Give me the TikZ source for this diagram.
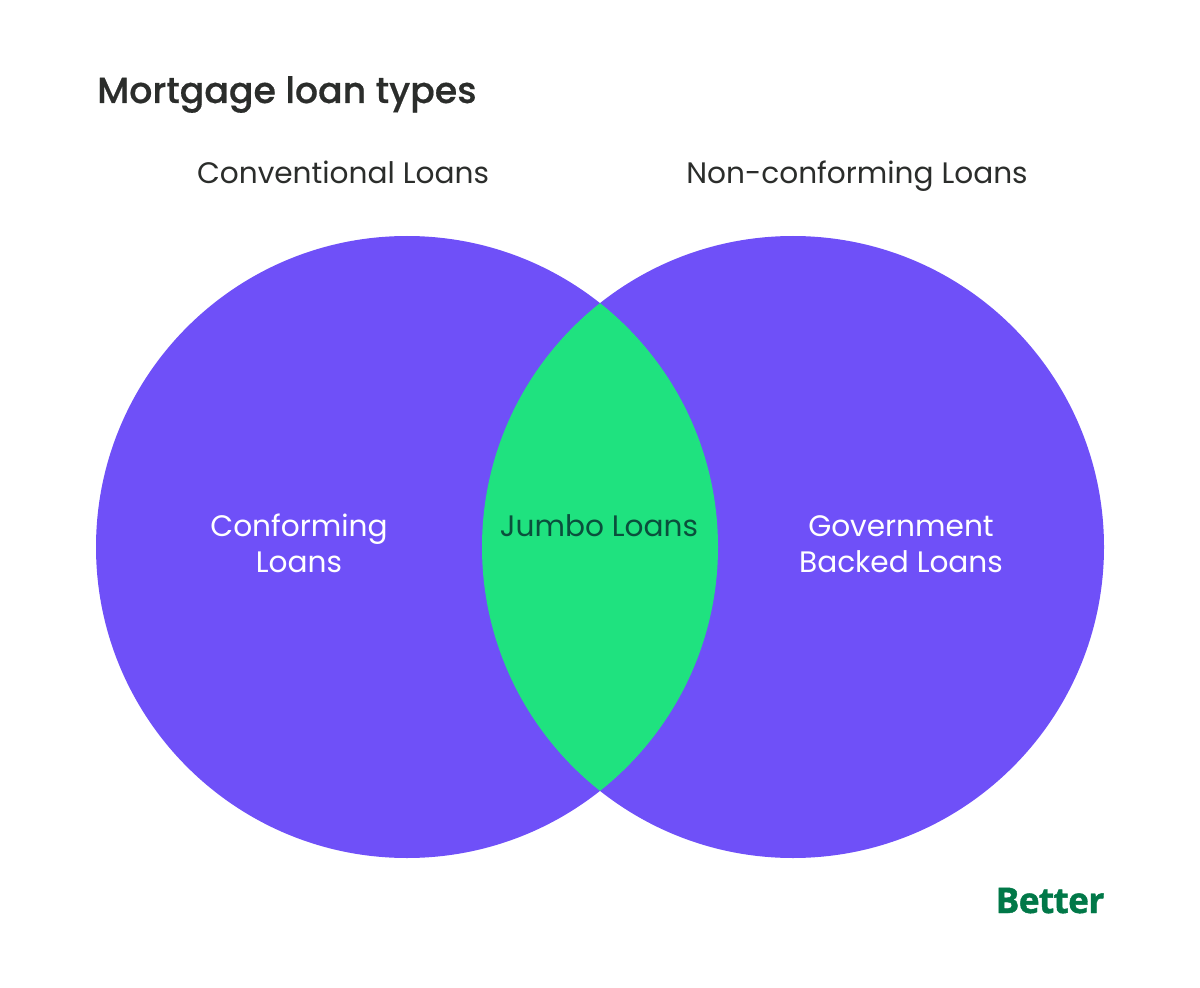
\documentclass[tikz,border=0pt]{standalone}
\usepackage{fontspec}
\setmainfont[BoldFont={Poppins Medium},BoldFeatures={FakeBold=0.5}]{Poppins}
\newfontfamily\logofont[BoldFeatures={FakeBold=1.2},LetterSpace=-2]{Open Sans}
\usepackage{xcolor}
\definecolor{loanpurple}{HTML}{6F50F8}
\definecolor{loangreen}{HTML}{1FE27F}
\definecolor{loanink}{HTML}{2B2D2B}
\definecolor{loandark}{HTML}{0A4F3C}
\definecolor{loanlogo}{HTML}{017848}
\begin{document}
\begin{tikzpicture}[x=0.75pt,y=-0.75pt,
      label/.style={font=\fontsize{22.2}{26.8}\selectfont,align=center,inner sep=0pt},
      head/.style={label,text=loanink,anchor=base},
      inner/.style={label,text=white}]
      \useasboundingbox (0,0) rectangle (1200,988);
      \fill[loanpurple] (407,547) circle (311);
      \fill[loanpurple] (793,547) circle (311);
      \begin{scope}
        \clip (407,547) circle (311);
        \fill[loangreen] (793,547) circle (311);
      \end{scope}
      \node[label,anchor=base west,text=loanink,font=\fontsize{27.2}{32}\selectfont\bfseries] (title) at (97,103) {Mortgage loan types};
      \node[head] (conventional) at (343,184) {Conventional Loans};
      \node[head] (nonconforming) at (857,184) {Non-conforming Loans};
      \node[inner] (conforming) at (299,543) {Conforming\\Loans};
      \node[label,text=loandark,anchor=base] (jumbo) at (599,536) {Jumbo Loans};
      \node[inner] (government) at (901,544) {Government\\Backed Loans};
      \node[inner sep=0pt,text=loanlogo,anchor=base,font=\fontsize{26.5}{30}\selectfont\logofont\bfseries] (better) at (1050,913) {Better};
    \end{tikzpicture}
\end{document}
